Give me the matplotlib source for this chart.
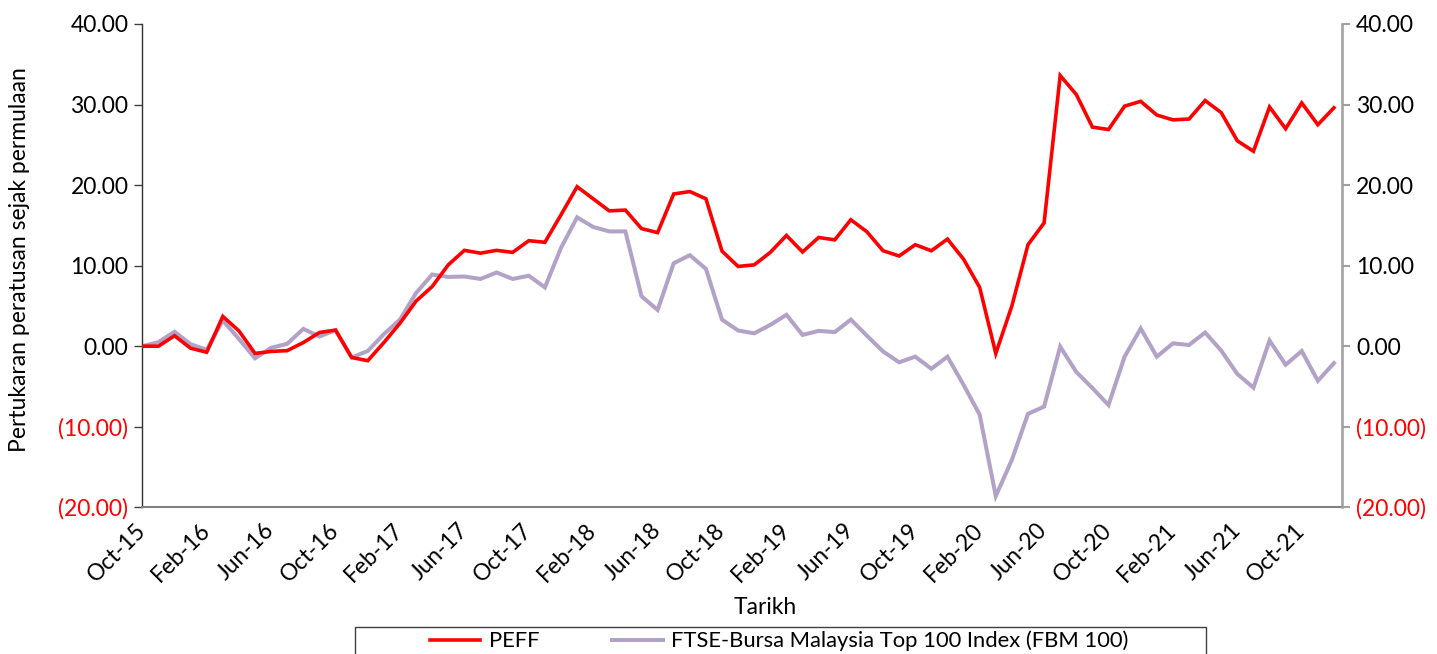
import matplotlib
matplotlib.use("Agg")
import matplotlib.pyplot as plt
from matplotlib.patches import Rectangle
from matplotlib.lines import Line2D
import numpy as np

plt.rcParams['font.family'] = ['Lato', 'DejaVu Sans']

months = ["Oct-15", "Nov-15", "Dec-15", "Jan-16", "Feb-16", "Mar-16", "Apr-16", "May-16", "Jun-16",
          "Jul-16", "Aug-16", "Sep-16", "Oct-16", "Nov-16", "Dec-16", "Jan-17", "Feb-17", "Mar-17",
          "Apr-17", "May-17", "Jun-17", "Jul-17", "Aug-17", "Sep-17", "Oct-17", "Nov-17", "Dec-17",
          "Jan-18", "Feb-18", "Mar-18", "Apr-18", "May-18", "Jun-18", "Jul-18", "Aug-18", "Sep-18",
          "Oct-18", "Nov-18", "Dec-18", "Jan-19", "Feb-19", "Mar-19", "Apr-19", "May-19", "Jun-19",
          "Jul-19", "Aug-19", "Sep-19", "Oct-19", "Nov-19", "Dec-19", "Jan-20", "Feb-20", "Mar-20",
          "Apr-20", "May-20", "Jun-20", "Jul-20", "Aug-20", "Sep-20", "Oct-20", "Nov-20", "Dec-20",
          "Jan-21", "Feb-21", "Mar-21", "Apr-21", "May-21", "Jun-21", "Jul-21", "Aug-21", "Sep-21",
          "Oct-21", "Nov-21", "Dec-21"]

peff = [0.0, 0.0, 1.3, -0.25, -0.75, 3.7, 1.9, -0.9, -0.65, -0.55,
        0.45, 1.7, 2.0, -1.4, -1.8, 0.45, 2.85, 5.6, 7.4, 10.1,
        11.9, 11.55, 11.9, 11.65, 13.1, 12.9, 16.3, 19.8, 18.3, 16.8,
        16.9, 14.6, 14.1, 18.9, 19.2, 18.3, 11.8, 9.9, 10.1, 11.65,
        13.75, 11.7, 13.5, 13.2, 15.7, 14.2, 11.85, 11.2, 12.6, 11.85,
        13.3, 10.8, 7.3, -0.9, 5.0, 12.6, 15.3, 33.6, 31.25, 27.2,
        26.9, 29.8, 30.4, 28.7, 28.1, 28.2, 30.5, 29.0, 25.5, 24.2,
        29.7, 27.0, 30.2, 27.5, 29.6]

fbm100 = [0.0, 0.5, 1.8, 0.25, -0.45, 3.2, 0.9, -1.5, -0.2, 0.3,
          2.15, 1.2, 2.0, -1.4, -0.6, 1.5, 3.3, 6.6, 8.9, 8.6,
          8.65, 8.35, 9.15, 8.35, 8.75, 7.3, 12.2, 16.0, 14.8, 14.25,
          14.25, 6.2, 4.5, 10.3, 11.3, 9.6, 3.3, 1.95, 1.6, 2.65,
          3.9, 1.4, 1.9, 1.75, 3.3, 1.3, -0.65, -2.0, -1.3, -2.8,
          -1.3, -4.8, -8.5, -18.6, -14.1, -8.4, -7.5, -0.05, -3.2, -5.2,
          -7.3, -1.3, 2.2, -1.3, 0.35, 0.15, 1.7, -0.55, -3.45, -5.15,
          0.7, -2.3, -0.6, -4.3, -2.1]

series_names = ["PEFF", "FTSE-Bursa Malaysia Top 100 Index (FBM 100)"]
y_ticks = [-20, -10, 0, 10, 20, 30, 40]
x_label = "Tarikh"
y_label = "Pertukaran peratusan sejak permulaan"

RED = "#FF0000"
PURPLE = "#B3A2C7"
FS = 16.5

fig = plt.figure(figsize=(14.37, 6.54), dpi=100)
ax = fig.add_axes([142.3 / 1437, 1 - 507.3 / 654, (1342 - 142.3) / 1437, (507.3 - 24) / 654])

x = np.arange(len(months))
ax.plot(x, fbm100, color=PURPLE, lw=2.9, solid_joinstyle='miter', zorder=2)
ax.plot(x, peff, color=RED, lw=2.6, solid_joinstyle='miter', zorder=3)

ax.set_xlim(0, len(months) - 0.5)
ax.set_ylim(-20, 40)


def fmt(v):
    return f"({abs(v):.2f})" if v < 0 else f"{v:.2f}"


ax.set_yticks(y_ticks)
ax.set_yticklabels([fmt(v) for v in y_ticks], fontsize=FS)
for lbl, v in zip(ax.get_yticklabels(), y_ticks):
    lbl.set_color(RED if v < 0 else "black")
ax.tick_params(axis='y', direction='out', length=6, width=1, color='#404040', pad=4)

tick_idx = list(range(0, len(months), 4))
ax.set_xticks(tick_idx)
ax.set_xticklabels([months[i] for i in tick_idx], rotation=45, ha='right', va='center',
                   rotation_mode='anchor', fontsize=FS)
ax.tick_params(axis='x', length=0, pad=14)

ax2 = ax.twinx()
ax2.set_ylim(-20, 40)
ax2.set_yticks(y_ticks)
ax2.set_yticklabels([fmt(v) for v in y_ticks], fontsize=FS)
for lbl, v in zip(ax2.get_yticklabels(), y_ticks):
    lbl.set_color(RED if v < 0 else "black")
ax2.tick_params(axis='y', direction='out', length=6, width=1.5, color='#A0A0A0', pad=4)

for a in (ax, ax2):
    a.spines['top'].set_visible(False)
ax.spines['left'].set_color('#303030')
ax.spines['left'].set_linewidth(1.0)
ax.spines['bottom'].set_color('#808080')
ax.spines['bottom'].set_linewidth(1.5)
ax2.spines['right'].set_color('#A0A0A0')
ax2.spines['right'].set_linewidth(1.8)
ax2.spines['left'].set_visible(False)
ax2.spines['bottom'].set_visible(False)

fig.text(20 / 1437, 1 - 260 / 654, y_label, rotation=90, ha='center', va='center', fontsize=FS)
fig.text(765 / 1437, 1 - 608 / 654, x_label, ha='center', va='center', fontsize=FS)

# legend box
fig.patches.append(Rectangle((355 / 1437, -0.05), (1206 - 355) / 1437, 0.05 + (654 - 627) / 654,
                             transform=fig.transFigure, fill=False, edgecolor='#404040', lw=1.0))
handles = [Line2D([], [], color=RED, lw=2.6), Line2D([], [], color=PURPLE, lw=2.9)]
leg = fig.legend(handles, series_names, loc='center left',
                 bbox_to_anchor=(430 / 1437, 1 - 641 / 654), ncol=2, frameon=False,
                 fontsize=15.8, handlelength=2.3, handletextpad=0.4, columnspacing=3.3,
                 borderpad=0, borderaxespad=0)

fig.savefig("out.png", dpi=100)
